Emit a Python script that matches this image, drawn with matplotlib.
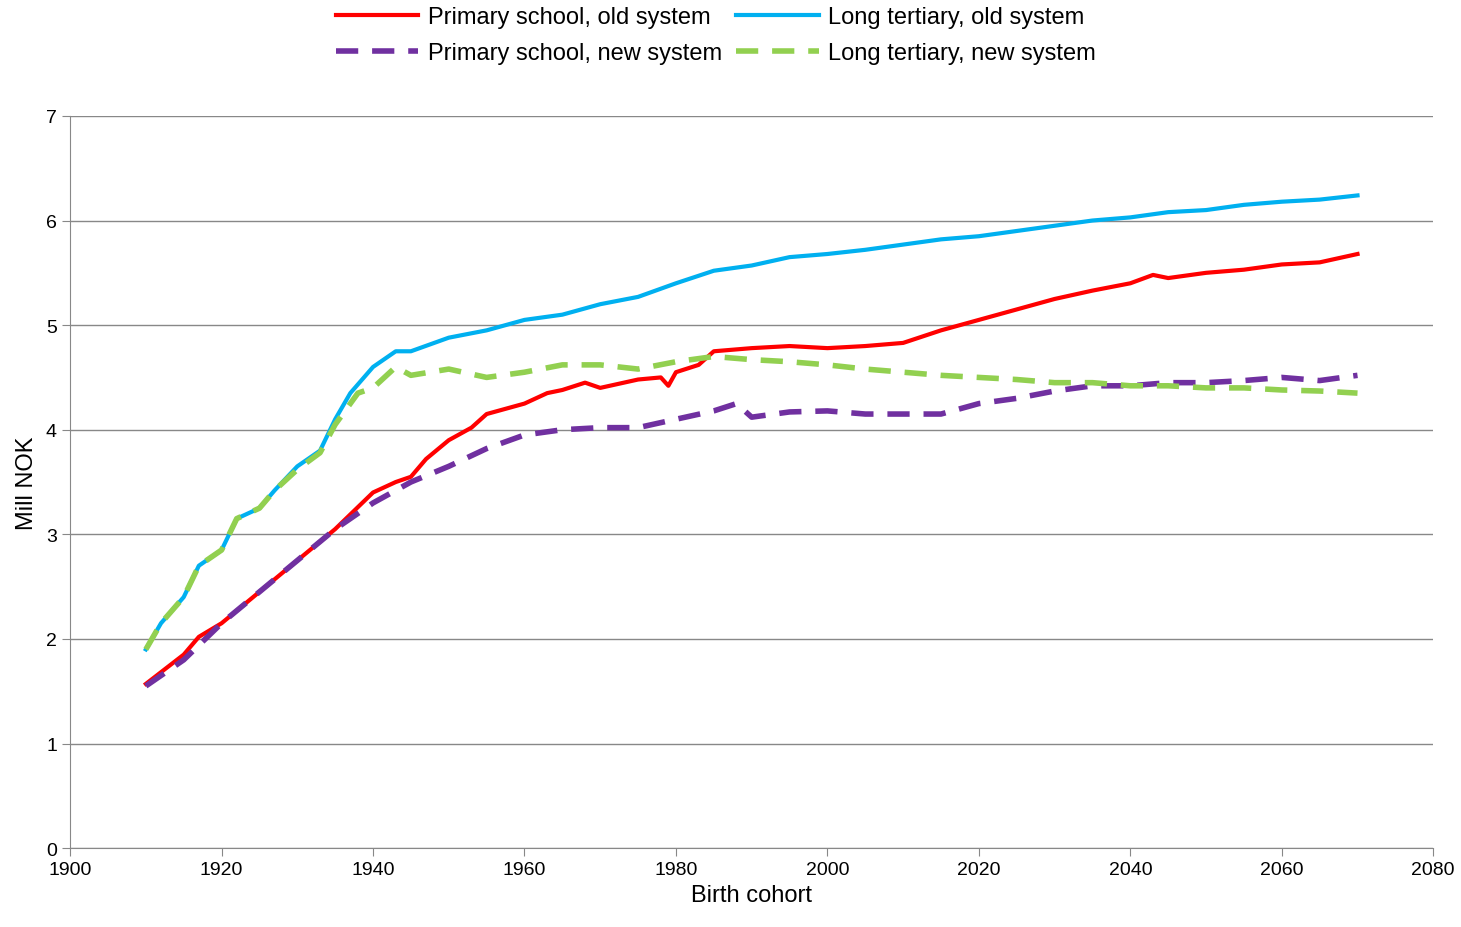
import matplotlib
matplotlib.use('Agg')
import matplotlib.pyplot as plt

plt.rcParams['font.family'] = ['Liberation Sans', 'DejaVu Sans']

years_red = [1910, 1915, 1917, 1920, 1925, 1930, 1935, 1940, 1943, 1945, 1947, 1950, 1953, 1955, 1960, 1963,
             1965, 1968, 1970, 1975, 1978, 1979, 1980, 1983, 1985, 1990, 1995, 2000, 2005, 2010, 2015, 2020,
             2025, 2030, 2035, 2040, 2043, 2045, 2050, 2055, 2060, 2065, 2070]
primary_old = [1.57, 1.85, 2.02, 2.15, 2.45, 2.75, 3.05, 3.4, 3.5, 3.55, 3.72, 3.9, 4.02, 4.15, 4.25, 4.35,
               4.38, 4.45, 4.4, 4.48, 4.5, 4.42, 4.55, 4.62, 4.75, 4.78, 4.8, 4.78, 4.8, 4.83, 4.95, 5.05,
               5.15, 5.25, 5.33, 5.4, 5.48, 5.45, 5.5, 5.53, 5.58, 5.6, 5.68]

years_blue = [1910, 1912, 1915, 1917, 1920, 1922, 1925, 1927, 1930, 1933, 1935, 1937, 1940, 1943, 1945, 1950,
              1955, 1960, 1965, 1970, 1975, 1980, 1985, 1990, 1995, 2000, 2005, 2010, 2015, 2020, 2025, 2030,
              2035, 2040, 2045, 2050, 2055, 2060, 2065, 2070]
tertiary_old = [1.9, 2.15, 2.4, 2.7, 2.85, 3.15, 3.25, 3.42, 3.65, 3.8, 4.1, 4.35, 4.6, 4.75, 4.75, 4.88,
                4.95, 5.05, 5.1, 5.2, 5.27, 5.4, 5.52, 5.57, 5.65, 5.68, 5.72, 5.77, 5.82, 5.85, 5.9, 5.95,
                6.0, 6.03, 6.08, 6.1, 6.15, 6.18, 6.2, 6.24]

years_purple = [1910, 1915, 1920, 1925, 1930, 1935, 1940, 1945, 1950, 1955, 1960, 1965, 1970, 1975, 1980,
                1985, 1988, 1990, 1995, 2000, 2005, 2010, 2015, 2020, 2025, 2030, 2035, 2040, 2045, 2050,
                2055, 2060, 2065, 2070]
primary_new = [1.55, 1.8, 2.15, 2.45, 2.75, 3.05, 3.3, 3.5, 3.65, 3.82, 3.95, 4.0, 4.02, 4.02, 4.1,
               4.18, 4.25, 4.12, 4.17, 4.18, 4.15, 4.15, 4.15, 4.25, 4.3, 4.37, 4.42, 4.42, 4.45, 4.45,
               4.47, 4.5, 4.47, 4.52]

years_green = [1910, 1912, 1915, 1917, 1920, 1922, 1925, 1927, 1930, 1933, 1935, 1938, 1940, 1943, 1945,
               1950, 1955, 1960, 1965, 1970, 1975, 1980, 1985, 1990, 1995, 2000, 2005, 2010, 2015, 2020,
               2025, 2030, 2035, 2040, 2045, 2050, 2055, 2060, 2065, 2070]
tertiary_new = [1.9, 2.15, 2.4, 2.7, 2.85, 3.15, 3.25, 3.42, 3.62, 3.78, 4.05, 4.35, 4.4, 4.6, 4.52,
                4.58, 4.5, 4.55, 4.62, 4.62, 4.58, 4.65, 4.7, 4.67, 4.65, 4.62, 4.58, 4.55, 4.52, 4.5,
                4.48, 4.45, 4.45, 4.42, 4.42, 4.4, 4.4, 4.38, 4.37, 4.35]

fig = plt.figure(figsize=(14.61, 9.28), dpi=100)
ax = fig.add_axes([0.048, 0.085, 0.933, 0.789])

l1, = ax.plot(years_red, primary_old, color='#ff0000', lw=3, label='Primary school, old system')
l2, = ax.plot(years_blue, tertiary_old, color='#00b0f0', lw=3, label='Long tertiary, old system')
l3, = ax.plot(years_purple, primary_new, color='#7030a0', lw=4, ls=(0, (4, 2.5)), label='Primary school, new system')
l4, = ax.plot(years_green, tertiary_new, color='#92d050', lw=4, ls=(0, (4, 2.5)), label='Long tertiary, new system')

ax.set_xlim(1900, 2080)
ax.set_ylim(0, 7)
ax.set_xticks(range(1900, 2081, 20))
ax.set_yticks(range(0, 8))
ax.grid(axis='y', color='#888888', lw=1)
ax.set_axisbelow(True)
for s in ['top', 'right']:
    ax.spines[s].set_visible(False)
ax.spines['left'].set_color('#888888')
ax.spines['bottom'].set_color('#888888')
ax.tick_params(labelsize=14, color='#888888', direction='out', length=6)
ax.set_xlabel('Birth cohort', fontsize=17)
ax.set_ylabel('Mill NOK', fontsize=17, labelpad=6)

fig.legend(handles=[l1, l3, l2, l4], ncol=2, loc='upper center', bbox_to_anchor=(0.49, 1.015),
           frameon=False, fontsize=17, handlelength=3.5, columnspacing=0.6, handletextpad=0.4,
           labelspacing=0.6)

fig.savefig('out.png', dpi=100)
